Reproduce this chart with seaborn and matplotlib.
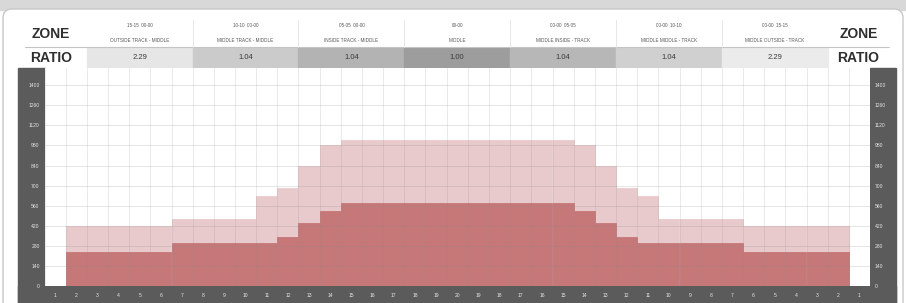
import numpy as np
import pandas as pd
import matplotlib.pyplot as plt
import seaborn as sns
from matplotlib.patches import Rectangle, FancyBboxPatch

# 39 columns across the field, numbered out from both edges to the middle
columns = list(range(1, 40))
col_labels = ['1', '2', '3', '4', '5', '6', '7', '8', '9', '10',
              '11', '12', '13', '14', '15', '16', '17', '18', '19', '20',
              '19', '18', '17', '16', '15', '14', '13', '12', '11', '10',
              '9', '8', '7', '6', '5', '4', '3', '2', '1']

# light (total) and dark (inner) bar heights
outer_height = [0, 420, 420, 420, 420, 420, 470, 470, 470, 470,
                630, 680, 840, 980, 1020, 1020, 1020, 1020, 1020, 1020,
                1020, 1020, 1020, 1020, 1020, 980, 840, 680, 630, 470,
                470, 470, 470, 420, 420, 420, 420, 420, 0]
inner_height = [0, 240, 240, 240, 240, 240, 300, 300, 300, 300,
                300, 340, 440, 520, 580, 580, 580, 580, 580, 580,
                580, 580, 580, 580, 580, 520, 440, 340, 300, 300,
                300, 300, 300, 240, 240, 240, 240, 240, 0]

y_ticks = [0, 140, 280, 420, 560, 700, 840, 980, 1120, 1260, 1400]

# header table
zone_ranges = ['15-15  00-00', '10-10  00-00', '05-05  00-00', '00-00',
               '00-00  05-05', '00-00  10-10', '00-00  15-15']
zone_names = ['OUTSIDE TRACK - MIDDLE', 'MIDDLE TRACK - MIDDLE', 'INSIDE TRACK - MIDDLE',
              'MIDDLE', 'MIDDLE INSIDE - TRACK', 'MIDDLE MIDDLE - TRACK',
              'MIDDLE OUTSIDE - TRACK']
zone_ratios = ['2.29', '1.04', '1.04', '1.00', '1.04', '1.04', '2.29']
ratio_shades = ['#e6e6e6', '#cbcbcb', '#b3b3b3', '#9d9d9d', '#b7b7b7', '#d0d0d0', '#ebebeb']

df = pd.DataFrame({'col': columns, 'outer': outer_height, 'inner': inner_height})

light_red = '#e9cacc'
dark_red = '#c67879'
frame = '#5b5b5b'

sns.set_style('white')
plt.rcParams['font.family'] = ['Liberation Sans', 'DejaVu Sans']

fig = plt.figure(figsize=(9.06, 3.03), dpi=100)

# background in pixel units: grey top band, white panel, dark frame round the plot
bg = fig.add_axes([0, 0, 1, 1], zorder=0)
bg.set_xlim(0, 906)
bg.set_ylim(303, 0)
bg.axis('off')
bg.add_patch(Rectangle((0, 0), 906, 10, color='#d8d8d8'))
bg.add_patch(FancyBboxPatch((3, 9), 900, 330, boxstyle='round,pad=0,rounding_size=9',
                            fc='white', ec='#c8c8c8', lw=1))
bg.add_patch(Rectangle((18, 68), 26.5, 240, color=frame))
bg.add_patch(Rectangle((869.5, 68), 26.5, 240, color=frame))
bg.add_patch(Rectangle((18, 286), 878, 20, color=frame))

# main chart
ax = fig.add_axes([44.5 / 906, 17 / 303, 825.5 / 906, 218 / 303], zorder=2)
sns.barplot(data=df, x='col', y='outer', color=light_red, width=1, saturation=1,
            edgecolor=light_red, linewidth=0.6, ax=ax)
sns.barplot(data=df, x='col', y='inner', color=dark_red, width=1, saturation=1,
            edgecolor=dark_red, linewidth=0.6, ax=ax)
ax.set_xlim(-0.5, 38.5)
ax.set_ylim(0, 1520)
ax.set_xlabel('')
ax.set_ylabel('')
ax.set_xticks(range(len(col_labels)))
ax.set_xticklabels(col_labels)
ax.set_xticks(np.arange(-0.5, 39, 1), minor=True)
ax.set_yticks(y_ticks)
ax.set_yticklabels([str(v) for v in y_ticks])
ax.tick_params(axis='x', which='major', length=0, pad=5, labelsize=3.6, labelcolor='#e6e6e6')
ax.tick_params(axis='x', which='minor', length=0)
ax.tick_params(axis='y', length=0, pad=3.5, labelsize=3.6, labelcolor='#e6e6e6',
               labelleft=True, labelright=True)
ax.set_axisbelow(False)
ax.grid(axis='y', which='major', color='#888888', alpha=0.22, lw=0.7)
ax.grid(axis='x', which='minor', color='#888888', alpha=0.18, lw=0.7)
ax.grid(axis='x', which='major', visible=False)
for s in ax.spines.values():
    s.set_visible(False)

# header table: x shares the column scale, y in pixels
hd = fig.add_axes([44.5 / 906, (303 - 67) / 303, 825.5 / 906, 49 / 303], zorder=1)
hd.set_xlim(-0.5, 38.5)
hd.set_ylim(67, 18)
hd.axis('off')
hd.plot([-1.4, 39.4], [47.5, 47.5], color='#c4c4c4', lw=0.8, clip_on=False)
for k in range(len(zone_ratios)):
    x0 = 1.5 + 5 * k
    hd.add_patch(Rectangle((x0, 48), 5, 19, color=ratio_shades[k], clip_on=False))
    if k > 0:
        hd.plot([x0, x0], [20, 47.5], color='#e2e2e2', lw=0.6)
    hd.text(x0 + 2.5, 25.5, zone_ranges[k], ha='center', va='center', fontsize=3.3,
            color='#555555')
    hd.text(x0 + 2.5, 40.5, zone_names[k], ha='center', va='center', fontsize=3.3,
            color='#555555')
    hd.text(x0 + 2.5, 57.5, zone_ratios[k], ha='center', va='center', fontsize=5.5,
            color='#3a3a3a')

for xc in [-0.2, 37.95]:
    hd.text(xc, 34, 'ZONE', ha='center', va='center', fontsize=10, fontweight='bold',
            color='#2f2f2f', clip_on=False)
    hd.text(xc, 57.5, 'RATIO', ha='center', va='center', fontsize=10, fontweight='bold',
            color='#2f2f2f', clip_on=False)

fig.savefig('out.png', dpi=100)
